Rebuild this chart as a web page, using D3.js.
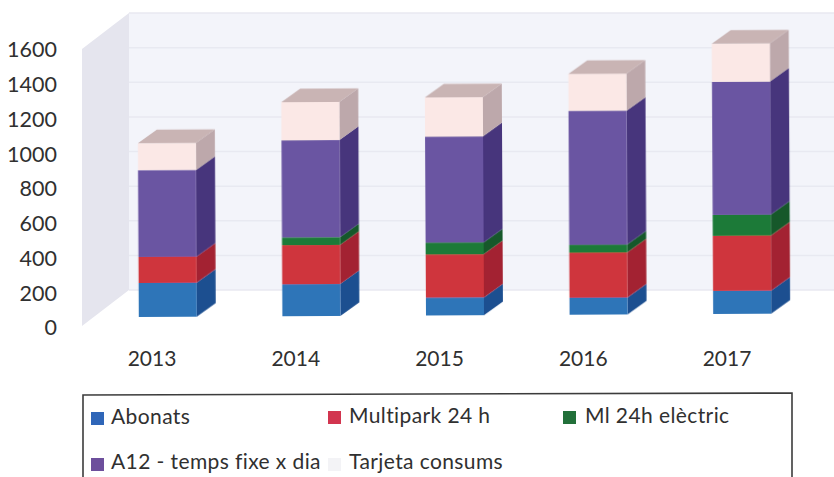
<!DOCTYPE html>
<html><head><meta charset="utf-8">
<script src="https://cdn.jsdelivr.net/npm/d3@7"></script>
<style>html,body{margin:0;padding:0;background:#fff}svg{display:block}text{font-family:Lato,"Open Sans",sans-serif;fill:#303030}</style>
</head><body><svg id="c" width="834" height="477"></svg>
<script>
const years = ["2013","2014","2015","2016","2017"];
const seriesNames = ["Abonats","Multipark 24 h","Ml 24h elèctric","A12 - temps fixe x dia","Tarjeta consums"];
const abonats = [196,184,103,98,133];
const multipark = [150,225,248,259,317];
const mlElectric = [0,45,69,46,121];
const a12 = [500,560,611,772,767];
const tarjeta = [155,220,225,213,219];
const ticks = [0,200,400,600,800,1000,1200,1400,1600];
const frontColors = ["#2f74b8","#cf343c","#1d7a38","#6a55a2","#fbe8e6"];
const sideColors = ["#1f4f90","#a32430","#14592c","#46347c","#bda8ab"];
const topColor = "#c9b4b4";
const legendColors = ["#2f66b8","#d2354f","#22703a","#6d4f9c","#f3f3f6"];
const seriesValues = [abonats,multipark,mlElectric,a12,tarjeta];

const svg = d3.select("#c");
const defs = svg.append("defs");
defs.append("filter").attr("id","soft").append("feGaussianBlur").attr("stdDeviation",0.6);

const W = {left:129,right:834,top:13,bottom:290};
const DX = 47, DY = 36;
const walls = svg.append("g").attr("filter","url(#soft)");
const wallY = d3.scaleLinear().domain([0,1600]).range([W.bottom,W.top]);
walls.append("rect").attr("x",W.left).attr("y",W.top).attr("width",W.right-W.left).attr("height",W.bottom-W.top).attr("fill","#f3f4fa");
walls.append("path").attr("fill","#e5e5ee")
  .attr("d",d3.line()([[W.left-DX,W.top+DY],[W.left,W.top],[W.left,W.bottom],[W.left-DX,W.bottom+DY]])+"Z");
walls.selectAll("line.g").data(ticks).join("line").attr("class","g")
  .attr("x1",W.left).attr("x2",W.right).attr("y1",d=>wallY(d)).attr("y2",d=>wallY(d))
  .attr("stroke","#e8e9f1").attr("stroke-width",1.5);

const x = d3.scaleBand().domain(years).range([96,814]).paddingInner(0.596).paddingOuter(0.298);
const y = d3.scaleLinear().domain([0,1600]).range([317,39.4]);
const dx = 19, dy = -13.5;
const bars = svg.append("g").attr("filter","url(#soft)").attr("transform","rotate(-0.3 139 317)");
const rows = years.map((yr,i)=>{
  let c=0; return seriesValues.map((s,k)=>{const d={yr,k,y0:c,y1:c+s[i]}; c+=s[i]; return d;});
});
const line = d3.line();
const col = bars.selectAll("g").data(rows).join("g");
col.selectAll("path.side").data(d=>d).join("path").attr("class","side").attr("fill",d=>sideColors[d.k])
  .attr("d",d=>{const r=x(d.yr)+x.bandwidth();
    return line([[r,y(d.y0)],[r+dx,y(d.y0)+dy],[r+dx,y(d.y1)+dy],[r,y(d.y1)]])+"Z";});
col.selectAll("rect").data(d=>d).join("rect")
  .attr("x",d=>x(d.yr)).attr("width",x.bandwidth())
  .attr("y",d=>y(d.y1)).attr("height",d=>y(d.y0)-y(d.y1)).attr("fill",d=>frontColors[d.k]);
col.append("path").attr("fill",topColor).attr("d",d=>{
  const t=d[d.length-1], l=x(t.yr), r=l+x.bandwidth(), v=y(t.y1);
  return line([[l,v],[l+dx,v+dy],[r+dx,v+dy],[r,v]])+"Z";});

const axisY = d3.scaleLinear().domain([0,1600]).range([328,50]);
const yAxis = svg.append("g").attr("transform","translate(57,0)")
  .call(d3.axisLeft(axisY).tickValues(ticks).tickSize(0).tickPadding(0).tickFormat(d3.format("d")));
yAxis.select(".domain").remove();
yAxis.selectAll("text").attr("font-size",21.5).style("font-family","Lato");

const labelX = d3.scalePoint().domain(years).range([152,727]);
svg.selectAll("text.yr").data(years).join("text").attr("class","yr")
  .attr("x",d=>labelX(d)).attr("y",366).attr("text-anchor","middle").attr("font-size",21).text(d=>d);

const legend = svg.append("g");
legend.append("path").attr("fill","none").attr("stroke","#3c3c3c").attr("stroke-width",1.6)
  .attr("d","M83,477V395L792,393V477");
const markerX = [91,328,563,91,328];
const markerY = [412,411,411,458,458];
const textX = [111,349,585,111,349];
const textY = [424,423,423,469,469];
const lg = legend.selectAll("g").data(seriesNames).join("g");
lg.append("rect").attr("x",(d,i)=>markerX[i]).attr("y",(d,i)=>markerY[i]).attr("width",13).attr("height",13)
  .attr("fill",(d,i)=>legendColors[i]);
lg.append("text").attr("x",(d,i)=>textX[i]).attr("y",(d,i)=>textY[i])
  .attr("font-size",21).attr("letter-spacing",0.4).text(d=>d);
</script></body></html>
